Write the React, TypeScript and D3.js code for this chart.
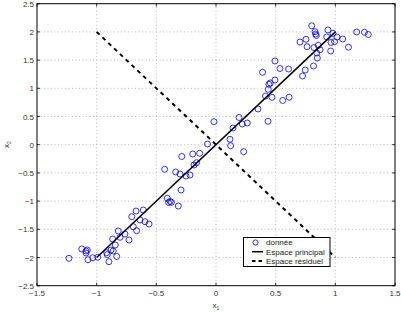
import React from "react";
import * as d3 from "d3";

// Observations (x1, x2)
const dataX1: number[] = [
  -1.232, -1.125, -1.089, -1.078, -1.089, -1.073, -1.033, -0.991, -0.916, -0.911,
  -0.897, -0.88, -0.866, -0.844, -0.832, -0.861, -0.819, -0.804, -0.763, -0.729,
  -0.706, -0.693, -0.67, -0.665, -0.637, -0.609, -0.595, -0.561, -0.43, -0.408,
  -0.398, -0.385, -0.373, -0.338, -0.316, -0.302, -0.293, -0.287, -0.251, -0.218,
  -0.195, -0.184, -0.163, -0.137, -0.071, -0.017, 0.117, 0.123, 0.142, 0.193,
  0.22, 0.262, 0.232, 0.352, 0.436, 0.415, 0.39, 0.444, 0.455, 0.438,
  0.469, 0.494, 0.494, 0.536, 0.559, 0.608, 0.613, 0.704, 0.725, 0.748,
  0.754, 0.763, 0.802, 0.817, 0.821, 0.83, 0.835, 0.841, 0.844, 0.849,
  0.857, 0.872, 0.928, 0.938, 0.961, 0.964, 0.98, 0.993, 1.014, 1.062,
  1.11, 1.179, 1.244, 1.276,
];
const dataX2: number[] = [
  -2.014, -1.849, -1.885, -1.867, -1.92, -2.039, -2.004, -1.996, -1.915, -1.95,
  -2.074, -1.867, -1.672, -1.778, -1.982, -1.885, -1.53, -1.642, -1.583, -1.69,
  -1.277, -1.454, -1.176, -1.525, -1.335, -1.158, -1.365, -1.406, -0.436, -0.95,
  -1.025, -1.007, -1.021, -0.484, -1.087, -0.52, -0.803, -0.209, -0.555, -0.537,
  -0.165, -0.36, -0.319, -0.152, 0.012, 0.408, 0.096, -0.018, 0.296, 0.482,
  0.367, 0.385, -0.124, 0.633, 0.415, 0.863, 1.284, 1.071, 1.094, 0.982,
  0.84, 1.147, 1.484, 1.351, 0.784, 1.342, 0.842, 1.821, 1.218, 1.324,
  1.869, 1.738, 2.108, 1.395, 1.723, 2.004, 1.963, 1.936, 1.626, 1.537,
  1.762, 1.684, 1.91, 2.034, 1.661, 1.812, 1.975, 1.826, 1.91, 1.874,
  1.729, 1.998, 1.993, 1.954,
];

// Principal and residual subspaces (segment end points)
const principalX: number[] = [-1, 1];
const principalY: number[] = [-2, 2];
const residualX: number[] = [-1, 1];
const residualY: number[] = [2, -2];

const xTicks: number[] = [-1.5, -1, -0.5, 0, 0.5, 1, 1.5];
const yTicks: number[] = [-2.5, -2, -1.5, -1, -0.5, 0, 0.5, 1, 1.5, 2, 2.5];
const legendLabels: string[] = ["donnée", "Espace principal", "Espace résiduel"];

const W = 401;
const H = 312;
const left = 37;
const right = 395;
const top = 3.7;
const bottom = 285.7;

const FONT = "'Liberation Sans', Arial, sans-serif";

export default function App() {
  const x = d3.scaleLinear().domain([-1.5, 1.5]).range([left, right]);
  const y = d3.scaleLinear().domain([-2.5, 2.5]).range([bottom, top]);
  const fmt = (v: number) => (v === 0 ? "0" : String(v).replace("-", "\u2212"));
  const seg = d3
    .line<[number, number]>()
    .x((d) => x(d[0]))
    .y((d) => y(d[1]));
  const principal = seg(principalX.map((v, i) => [v, principalY[i]] as [number, number])) || "";
  const residual = seg(residualX.map((v, i) => [v, residualY[i]] as [number, number])) || "";
  const tickLen = 3;

  const lx = 243.5;
  const ly = 237.5;
  const lw = 86.5;
  const lh = 29;

  return (
    <svg
      width={W}
      height={H}
      style={{ position: "absolute", left: 0, top: 0, background: "#fff" }}
      fontFamily={FONT}
    >
      <rect x={0} y={0} width={W} height={H} fill="#fff" />
      {/* grid */}
      <g stroke="#aaaaaa" strokeWidth={0.8} strokeDasharray="1,2.5">
        {xTicks.slice(1, -1).map((t) => (
          <line key={"gx" + t} x1={x(t)} x2={x(t)} y1={top} y2={bottom} />
        ))}
        {yTicks.slice(1, -1).map((t) => (
          <line key={"gy" + t} x1={left} x2={right} y1={y(t)} y2={y(t)} />
        ))}
      </g>
      {/* ticks */}
      <g stroke="#000" strokeWidth={0.8}>
        {xTicks.map((t) => (
          <g key={"tx" + t}>
            <line x1={x(t)} x2={x(t)} y1={bottom} y2={bottom - tickLen} />
            <line x1={x(t)} x2={x(t)} y1={top} y2={top + tickLen} />
          </g>
        ))}
        {yTicks.map((t) => (
          <g key={"ty" + t}>
            <line x1={left} x2={left + tickLen} y1={y(t)} y2={y(t)} />
            <line x1={right} x2={right - tickLen} y1={y(t)} y2={y(t)} />
          </g>
        ))}
      </g>
      {/* data */}
      <g fill="none" stroke="#0000ff" strokeWidth={0.8}>
        {dataX1.map((v, i) => (
          <circle key={i} cx={x(v)} cy={y(dataX2[i])} r={3} />
        ))}
      </g>
      <path d={principal} stroke="#000" strokeWidth={1.5} fill="none" />
      <path d={residual} stroke="#000" strokeWidth={2} strokeDasharray="4,4" fill="none" />
      {/* frame */}
      <rect x={left} y={top} width={right - left} height={bottom - top} fill="none" stroke="#000" strokeWidth={1} />
      {/* tick labels */}
      <g fontSize={8} fill="#333">
        {xTicks.map((t) => (
          <text key={"lx" + t} x={x(t)} y={bottom + 10} textAnchor="middle">
            {fmt(t)}
          </text>
        ))}
        {yTicks.map((t) => (
          <text key={"ly" + t} x={left - 3} y={y(t) + 3} textAnchor="end">
            {fmt(t)}
          </text>
        ))}
      </g>
      {/* axis labels */}
      <text x={x(0)} y={308} fontSize={8} fill="#333" textAnchor="middle">
        x<tspan fontSize={5} dy={2}>1</tspan>
      </text>
      <text transform={`translate(9,${y(0)}) rotate(-90)`} fontSize={8} fill="#333" textAnchor="middle">
        x<tspan fontSize={5} dy={2}>2</tspan>
      </text>
      {/* legend */}
      <rect x={lx} y={ly} width={lw} height={lh} fill="#fff" stroke="#000" strokeWidth={1} />
      <circle cx={lx + 12} cy={ly + 5} r={2.6} fill="none" stroke="#0000ff" strokeWidth={0.8} />
      <line x1={lx + 8.5} x2={lx + 19.5} y1={ly + 14.2} y2={ly + 14.2} stroke="#000" strokeWidth={1.5} />
      <line x1={lx + 8.5} x2={lx + 20} y1={ly + 23.5} y2={ly + 23.5} stroke="#000" strokeWidth={2} strokeDasharray="3.5,3" />
      <g fontSize={8} fill="#222">
        {legendLabels.map((s, i) => (
          <text key={s} x={lx + 22.5} y={ly + 7.8 + i * 9.3}>
            {s}
          </text>
        ))}
      </g>
    </svg>
  );
}
